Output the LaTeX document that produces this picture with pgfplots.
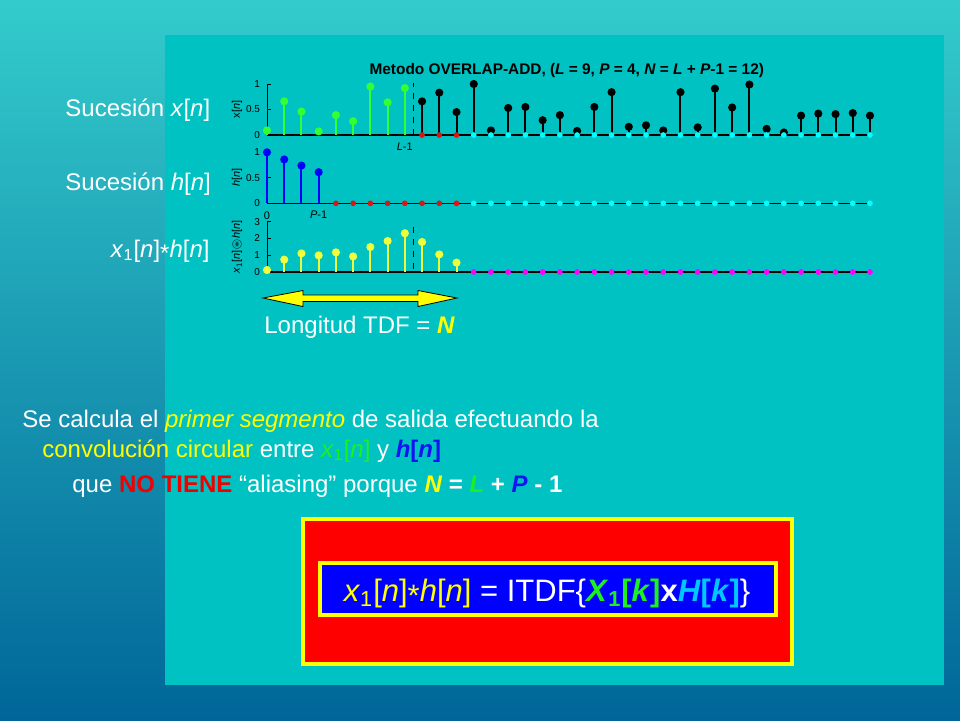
\documentclass[border=0pt]{standalone}
\usepackage{pgfplots}
\pgfplotsset{compat=1.18}
\usepackage{amssymb}
\usepackage{fontspec}
\setmainfont{Liberation Sans}

\definecolor{bgtop}{RGB}{51,204,204}
\definecolor{bgbot}{RGB}{0,102,153}
\definecolor{panel}{RGB}{0,194,194}
\definecolor{stemgreen}{RGB}{51,255,51}
\definecolor{stemred}{RGB}{220,20,20}
\definecolor{stemcyan}{RGB}{0,255,255}
\definecolor{stemblue}{RGB}{0,0,255}
\definecolor{stemyellow}{RGB}{240,255,60}
\definecolor{stemmag}{RGB}{255,0,255}
\definecolor{txtyellow}{RGB}{255,255,0}
\definecolor{txtgreen}{RGB}{30,240,30}
\definecolor{txtblue}{RGB}{20,20,240}
\definecolor{txtred}{RGB}{240,0,0}
\definecolor{hk}{RGB}{0,200,255}

\pgfplotsset{
  stemaxis/.style={
    scale only axis, width=301.5pt, anchor=south west,
    xmin=0, xmax=35, ymin=0, clip=false,
    axis x line=none, axis y line*=left,
    y axis line style={black, line width=0.5pt},
    tick align=inside, major tick length=2pt,
    ytick style={black, line width=0.5pt},
    yticklabel style={font=\fontsize{5}{6}\selectfont, black},
    /pgf/number format/assume math mode=true,
    ylabel style={font=\fontsize{5.5}{6}\selectfont, black,
      at={(axis description cs:-0.0497,0.5)}, anchor=center},
  },
  base/.style={black, line width=0.7pt, forget plot},
  stem/.style={ycomb, line width=1pt, mark=*, mark size=1.5pt, color=#1,
    mark options={fill=#1, draw=#1}},
  zero/.style={only marks, mark=*, mark size=1.2pt, color=#1,
    mark options={fill=#1, draw=#1}},
}

% zeros on the base line
\def\cyanzeros{(12,0)(13,0)(14,0)(15,0)(16,0)(17,0)(18,0)(19,0)(20,0)(21,0)(22,0)(23,0)
  (24,0)(25,0)(26,0)(27,0)(28,0)(29,0)(30,0)(31,0)(32,0)(33,0)(34,0)(35,0)}

\begin{document}
\begin{tikzpicture}
\begin{scope}[x=0.5pt, y=-0.5pt]
  % slide background
  \shade[top color=bgtop, bottom color=bgbot] (0,0) rectangle (960,720);
  \fill[panel] (165,35) rectangle (944,685);
\end{scope}

% x[n]
\begin{axis}[stemaxis, at={(133.5pt,-67.5pt)}, height=25.5pt, ymax=1,
  ytick={0,0.5,1}, ylabel={x[\textit{n}]}]
  \addplot[base] coordinates {(0,0) (35,0)};
  \addplot[stem=stemgreen] coordinates {(0,0.09) (1,0.66) (2,0.46) (3,0.07) (4,0.39)
    (5,0.27) (6,0.95) (7,0.64) (8,0.92)};
  \addplot[stem=black] coordinates {(9,0.66) (10,0.83) (11,0.45) (12,1.00) (13,0.09)
    (14,0.53) (15,0.55) (16,0.29) (17,0.39) (18,0.08) (19,0.55) (20,0.84) (21,0.16)
    (22,0.19) (23,0.09) (24,0.84) (25,0.15) (26,0.91) (27,0.54) (28,0.99) (29,0.12)
    (30,0.05) (31,0.38) (32,0.42) (33,0.41) (34,0.43) (35,0.38)};
  \addplot[zero=stemred] coordinates {(9,0) (10,0) (11,0)};
  \addplot[zero=stemcyan] coordinates {\cyanzeros};
  \addplot[black, dashed, line width=0.5pt] coordinates {(8.5,0) (8.5,1.02)};
  \node[anchor=north, font=\fontsize{5.5}{6}\selectfont] at (axis cs:8,0) [yshift=-0.5pt] {\textit{L}-1};
  \node[anchor=base, font=\bfseries\fontsize{7.7}{9}\selectfont] at (axis cs:17.4,1) [yshift=5pt]
    {Metodo OVERLAP-ADD, (\textit{L} = 9, \textit{P} = 4, \textit{N} = \textit{L} + \textit{P}-1 = 12)};
\end{axis}

% h[n]
\begin{axis}[stemaxis, at={(133.5pt,-101.65pt)}, height=25.5pt, ymax=1,
  ytick={0,0.5,1}, ylabel={\textit{h}[\textit{n}]}]
  \addplot[base] coordinates {(0,0) (35,0)};
  \addplot[stem=stemblue] coordinates {(0,1.00) (1,0.86) (2,0.74) (3,0.61)};
  \addplot[zero=stemred] coordinates {(4,0) (5,0) (6,0) (7,0) (8,0) (9,0) (10,0) (11,0)};
  \addplot[zero=stemcyan] coordinates {\cyanzeros};
  \node[anchor=north, font=\fontsize{5.5}{6}\selectfont] at (axis cs:0,0) [yshift=-0.5pt] {0};
  \node[anchor=north, font=\fontsize{5.5}{6}\selectfont] at (axis cs:3,0) [yshift=-0.5pt] {\textit{P}-1};
\end{axis}

% x1[n] (*) h[n]
\begin{axis}[stemaxis, at={(133.5pt,-136pt)}, height=25.15pt, ymax=3,
  ytick={0,1,2,3}, ylabel={\textit{x}\textsubscript{1}[\textit{n}]$\circledast$\textit{h}[\textit{n}]}]
  \addplot[base] coordinates {(0,0) (35,0)};
  \addplot[stem=stemyellow] coordinates {(0,0.12) (1,0.74) (2,1.11) (3,0.99) (4,1.17)
    (5,0.93) (6,1.49) (7,1.85) (8,2.31) (9,1.79) (10,1.05) (11,0.56)};
  \addplot[zero=stemmag] coordinates {\cyanzeros};
  \addplot[black, dashed, line width=0.5pt] coordinates {(8.5,0.2) (8.5,3.06)};
\end{axis}

\begin{scope}[x=0.5pt, y=-0.5pt]
  % labels to the left of the plots
  \node[anchor=base west, white, font=\fontsize{12}{14}\selectfont, inner sep=0pt] at (65,116)
    {Sucesión \textit{x}[\textit{n}]};
  \node[anchor=base west, white, font=\fontsize{12}{14}\selectfont, inner sep=0pt] at (65,190)
    {Sucesión \textit{h}[\textit{n}]};
  \node[anchor=base east, white, font=\fontsize{12}{14}\selectfont, inner sep=0pt] at (210,257)
    {\textit{x}\textsubscript{1}[\textit{n}]\raisebox{-0.35ex}{*}\textit{h}[\textit{n}]};

  % double arrow: DFT length
  \filldraw[fill=txtyellow, draw=black, line width=0.4pt]
    (263,298) -- (303,290.5) -- (303,295) -- (418,295) -- (418,290.5) -- (457,298)
    -- (418,306.5) -- (418,301.5) -- (303,301.5) -- (303,306.5) -- cycle;
  \node[anchor=base west, white, font=\fontsize{12}{14}\selectfont, inner sep=0pt] at (264,333)
    {Longitud TDF = \textcolor{txtyellow}{\textbf{\textit{N}}}};

  % explanation
  \node[anchor=base west, white, font=\fontsize{12}{14}\selectfont, inner sep=0pt] at (22,427)
    {Se calcula el \textcolor{txtyellow}{\textit{primer segmento}} de salida efectuando la};
  \node[anchor=base west, white, font=\fontsize{12}{14}\selectfont, inner sep=0pt] at (42,457)
    {\textcolor{txtyellow}{convolución circular} entre
     \textcolor{txtgreen}{\textit{x}\textsubscript{1}[\textit{n}]} y
     \textcolor{txtblue}{\textbf{\textit{h}[\textit{n}]}}};
  \node[anchor=base west, white, font=\fontsize{12}{14}\selectfont, inner sep=0pt] at (72,492)
    {que \textcolor{txtred}{\textbf{NO TIENE}} “aliasing” porque
     \textbf{\textcolor{txtyellow}{\textit{N}} = \textcolor{txtgreen}{\textit{L}} +
     \textcolor{txtblue}{\textit{P}} - 1}};

  % result box
  \filldraw[fill=red, draw=txtyellow, line width=2pt] (303,519) rectangle (792,664);
  \filldraw[fill=stemblue, draw=txtyellow, line width=2pt] (320,563) rectangle (776,615);
  \node[anchor=base, white, font=\fontsize{15.5}{18}\selectfont, inner sep=0pt] at (547,601)
    {\textcolor{txtyellow}{\textit{x}\textsubscript{1}[\textit{n}]\raisebox{-0.35ex}{*}\textit{h}[\textit{n}]}
     = ITDF\{\textcolor{txtgreen}{\textbf{\textit{X}\textsubscript{1}[\textit{k}]}}\textbf{x}\textcolor{hk}{\textbf{\textit{H}[\textit{k}]}}\}};

  \pgfresetboundingbox
  \path (0,0) rectangle (960,720);
\end{scope}
\end{tikzpicture}
\end{document}
